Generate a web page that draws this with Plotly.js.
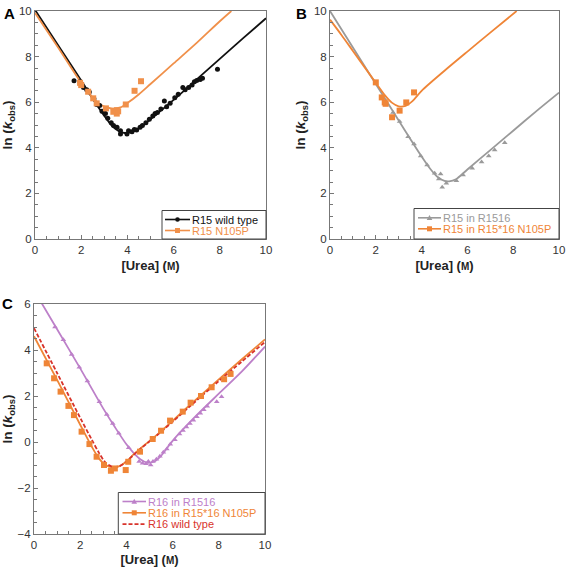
<!DOCTYPE html>
<html>
<head>
<meta charset="utf-8">
<script src="https://cdn.plot.ly/plotly-3.0.1.min.js"></script>
<style>html,body{margin:0;padding:0;background:#fff;}#chart{width:566px;height:567px;}</style>
</head>
<body>
<div id="chart"></div>
<script>
// ---------- Panel A ----------
const ureaA_wt = [1.69,1.95,2.1,2.24,2.35,2.55,2.67,2.8,2.9,3.05,3.15,3.3,3.4,3.55,3.7,3.7,3.98,4.05,4.2,4.3,4.4,4.55,4.65,4.8,4.95,5.1,5.2,5.3,5.45,5.6,5.7,5.85,6.05,6.2,6.4,6.5,6.65,6.8,6.9,7.0,7.15,7.25,7.9];
const lnkA_wt  = [6.94,6.9,6.65,6.55,6.45,6.15,5.9,5.85,5.6,5.5,5.3,5.1,4.98,4.9,4.75,4.6,4.6,4.75,4.7,4.8,4.78,4.9,4.98,5.1,5.25,5.4,5.5,5.55,5.7,6.05,5.8,5.95,6.2,6.35,6.65,6.55,6.65,6.75,6.9,6.95,7.0,7.05,7.45];
const ureaA_np = [1.95,2.0,2.3,2.52,2.67,3.07,3.39,3.54,3.54,3.6,3.93,4.31,4.59];
const lnkA_np  = [6.85,6.75,6.46,6.17,5.95,5.73,5.58,5.5,5.65,5.6,5.9,6.5,6.92];
const fitA_wt_x = [0,1,2,2.5,3,3.3,3.6,3.8,4.0,4.2,4.5,5,6,7,8,9,10];
const fitA_wt_y = [10.05,8.5,6.95,6.15,5.4,5.0,4.75,4.67,4.65,4.7,4.85,5.25,6.1,7.0,7.9,8.8,9.68];
const fitA_np_x = [0,1,2,2.5,2.8,3.1,3.4,3.7,4,4.5,5,6,7,8,8.5];
const fitA_np_y = [9.92,8.4,6.85,6.2,5.92,5.77,5.72,5.77,5.96,6.35,6.8,7.7,8.6,9.55,10.0];

// ---------- Panel B ----------
const ureaB_r1516 = [2.75,3.04,3.41,3.67,3.96,4.24,4.57,4.75,4.83,4.9,5.08,5.52,5.81,6.21,6.62,6.93,7.19,7.63];
const lnkB_r1516  = [5.55,5.15,4.49,4.17,3.64,3.25,2.88,2.63,2.85,2.27,2.45,2.55,2.81,3.1,3.38,3.64,3.9,4.22];
const ureaB_np = [2.0,2.26,2.39,2.43,2.71,3.04,3.33,3.67];
const lnkB_np  = [6.87,6.21,5.99,5.93,5.34,5.63,5.99,6.43];
const fitB_r1516_x = [0,1,2,3,3.5,4,4.4,4.7,5.0,5.2,5.5,6,7,8,9,10];
const fitB_r1516_y = [10.0,8.4,6.8,5.2,4.4,3.62,3.05,2.72,2.55,2.53,2.62,3.05,3.9,4.75,5.6,6.42];
const fitB_np_x = [0,0.5,1,1.5,2,2.4,2.7,3.0,3.3,3.6,4,5,6,7,8.15];
const fitB_np_y = [9.62,8.95,8.25,7.55,6.85,6.3,5.98,5.82,5.84,6.05,6.5,7.38,8.22,9.05,10.0];

// ---------- Panel C ----------
const ureaC_r1516 = [0.91,1.27,1.63,1.96,2.31,2.83,3.15,3.41,3.67,4.1,4.55,4.7,4.85,4.95,5.05,5.15,5.3,5.45,5.6,5.75,5.9,6.1,6.3,6.45,6.6,6.75,6.9,7.05,7.2,7.35,7.5,7.91,8.12];
const lnkC_r1516  = [5.0,4.45,3.8,3.25,2.65,1.75,1.2,0.8,0.38,-0.25,-0.85,-0.92,-0.95,-0.85,-1.0,-0.85,-0.75,-0.62,-0.45,-0.3,-0.1,0.1,0.35,0.5,0.65,0.8,0.95,1.1,1.25,1.4,1.55,1.75,1.97];
const ureaC_np = [0.55,0.87,1.15,1.49,1.73,2.06,2.4,2.71,3.03,3.33,3.5,3.97,4.08,4.59,5.14,5.5,5.89,6.44,6.78,7.23,7.69,8.23,8.51];
const lnkC_np  = [3.42,2.77,2.19,1.57,1.17,0.45,-0.09,-0.64,-1.0,-1.25,-1.15,-1.22,-0.86,-0.42,0.13,0.49,0.93,1.32,1.71,2.0,2.38,2.73,2.96];
const fitC_r1516_x = [0,1,2,3,3.5,4,4.3,4.6,4.9,5.2,5.5,6,7,8,9,10];
const fitC_r1516_y = [6.6,4.9,3.2,1.45,0.65,-0.1,-0.46,-0.75,-0.9,-0.85,-0.6,0.05,1.12,2.1,3.07,4.15];
const fitC_np_x = [0,1,2,2.5,2.8,3.1,3.4,3.7,4.0,4.3,4.7,5.31,6,6.75,8,9,10];
const fitC_np_y = [4.6,2.7,0.75,-0.2,-0.7,-1.0,-1.1,-1.05,-0.85,-0.55,-0.2,0.3,0.92,1.61,2.72,3.6,4.46];
const fitC_wt_x = [0,1,2,2.5,2.8,3.1,3.4,3.7,4.0,4.3,4.7,5.31,6,6.75,8,9,10];
const fitC_wt_y = [4.95,3.0,1.05,0.1,-0.45,-0.9,-1.08,-1.05,-0.85,-0.57,-0.22,0.28,0.88,1.55,2.65,3.5,4.35];

// ---------- tick labels & legend names ----------
const xTicks = [0,2,4,6,8,10];
const yTicksAB = [0,2,4,6,8,10];
const yTicksC = [-4,-2,0,2,4,6];
const namesA = ['R15 wild type', 'R15 N105P'];
const namesB = ['R15 in R1516', 'R15 in R15*16 N105P'];
const namesC = ['R16 in R1516', 'R16 in R15*16 N105P', 'R16 wild type'];

const C_BLACK = '#111111', C_ORANGE_A = '#f0904a', C_ORANGE = '#ef8537',
      C_GRAY = '#9a9a9a', C_PURPLE = '#bd80c9', C_RED = '#d8332b';
const RED_DASH = '4px,2px';

function fit(x, y, color, xa, ya, dash) {
  return {x: x, y: y, xaxis: xa, yaxis: ya, mode: 'lines', showlegend: false,
    line: {color: color, width: 1.8, shape: 'spline', smoothing: 0.8, dash: dash || 'solid'}, hoverinfo: 'skip'};
}
function pts(x, y, color, sym, size, xa, ya) {
  return {x: x, y: y, xaxis: xa, yaxis: ya, mode: 'markers', showlegend: false,
    marker: {color: color, symbol: sym, size: size}, hoverinfo: 'skip'};
}

const traces = [
  fit(fitA_wt_x, fitA_wt_y, C_BLACK, 'x', 'y'),
  fit(fitA_np_x, fitA_np_y, C_ORANGE_A, 'x', 'y'),
  pts(ureaA_wt, lnkA_wt, C_BLACK, 'circle', 5, 'x', 'y'),
  pts(ureaA_np, lnkA_np, C_ORANGE_A, 'square', 6, 'x', 'y'),

  fit(fitB_r1516_x, fitB_r1516_y, C_GRAY, 'x2', 'y2'),
  fit(fitB_np_x, fitB_np_y, C_ORANGE, 'x2', 'y2'),
  pts(ureaB_r1516, lnkB_r1516, C_GRAY, 'triangle-up', 5, 'x2', 'y2'),
  pts(ureaB_np, lnkB_np, C_ORANGE, 'square', 6, 'x2', 'y2'),

  fit(fitC_r1516_x, fitC_r1516_y, C_PURPLE, 'x3', 'y3'),
  fit(fitC_np_x, fitC_np_y, C_ORANGE, 'x3', 'y3'),
  fit(fitC_wt_x, fitC_wt_y, C_RED, 'x3', 'y3', RED_DASH),
  pts(ureaC_r1516, lnkC_r1516, C_PURPLE, 'triangle-up', 5, 'x3', 'y3'),
  pts(ureaC_np, lnkC_np, C_ORANGE, 'square', 6, 'x3', 'y3')
];

const W = 566, H = 567;
const FONT = 'Liberation Sans, Arial, Helvetica, sans-serif';
const px = v => v / W, py = v => 1 - v / H;

const xTitle = {text: '<b>[Urea] (<span style="font-size:10px">M</span>)</b>', font: {size: 13, family: FONT, color: '#222'}, standoff: 6};
const yTitle = {text: '<b>ln (<i>k</i><sub>obs</sub>)</b>', font: {size: 13.5, family: FONT, color: '#222'}, standoff: 5};

function xax(dom, anchor) {
  return {domain: dom, anchor: anchor, range: [0, 10], tickvals: xTicks, ticktext: xTicks.map(String),
    ticks: 'inside', ticklen: 4, tickcolor: '#777', showline: true, linecolor: '#777', linewidth: 1, mirror: true,
    showgrid: false, zeroline: false, tickfont: {size: 11.5, family: FONT, color: '#333'},
    minor: {ticks: 'inside', dtick: 0.5, ticklen: 3, tickcolor: '#777', showgrid: false},
    title: xTitle};
}
function yax(dom, anchor, rng, tv) {
  return {domain: dom, anchor: anchor, range: rng, tickvals: tv, ticktext: tv.map(v => v < 0 ? '\u2212' + Math.abs(v) : String(v)),
    ticks: 'inside', ticklen: 4, tickcolor: '#777', showline: true, linecolor: '#777', linewidth: 1, mirror: true,
    showgrid: false, zeroline: false, tickfont: {size: 11.5, family: FONT, color: '#333'},
    minor: {ticks: 'inside', dtick: 0.5, ticklen: 3, tickcolor: '#777', showgrid: false},
    title: yTitle};
}

// ---------- compact legends (box + sample line + marker + coloured text) ----------
const shapes = [], annotations = [];
const LEG_FONT = 11;
function legendBox(x0, y0, x1, y1) {
  shapes.push({type: 'rect', xref: 'paper', yref: 'paper', x0: px(x0), x1: px(x1), y0: py(y1), y1: py(y0),
    line: {color: '#444', width: 1}, fillcolor: '#fff', layer: 'above'});
}
function legendEntry(lx0, lx1, y, tx, name, color, sym, dash) {
  shapes.push({type: 'line', xref: 'paper', yref: 'paper', x0: px(lx0), x1: px(lx1), y0: py(y), y1: py(y),
    line: {color: color, width: 1.6, dash: dash || 'solid'}, layer: 'above'});
  const cx = (lx0 + lx1) / 2;
  if (sym === 'circle') {
    shapes.push({type: 'circle', xref: 'paper', yref: 'paper', x0: px(cx - 2.3), x1: px(cx + 2.3), y0: py(y + 2.3), y1: py(y - 2.3),
      fillcolor: color, line: {color: color, width: 0}, layer: 'above'});
  } else if (sym === 'square') {
    shapes.push({type: 'rect', xref: 'paper', yref: 'paper', x0: px(cx - 2.5), x1: px(cx + 2.5), y0: py(y + 2.5), y1: py(y - 2.5),
      fillcolor: color, line: {color: color, width: 0}, layer: 'above'});
  } else if (sym === 'triangle') {
    shapes.push({type: 'path', xref: 'paper', yref: 'paper',
      path: 'M' + px(cx - 2.8) + ',' + py(y + 2.2) + ' L' + px(cx + 2.8) + ',' + py(y + 2.2) + ' L' + px(cx) + ',' + py(y - 2.8) + ' Z',
      fillcolor: color, line: {color: color, width: 0}, layer: 'above'});
  }
  annotations.push({text: name, xref: 'paper', yref: 'paper', x: px(tx), y: py(y), xanchor: 'left', yanchor: 'middle',
    showarrow: false, borderpad: 0, font: {size: LEG_FONT, family: FONT, color: color}});
}
legendBox(162, 210.5, 266, 239);
legendEntry(165, 190, 219.5, 190.5, namesA[0], C_BLACK, 'circle');
legendEntry(165, 190, 230.5, 190.5, namesA[1], C_ORANGE_A, 'square');

legendBox(414, 208.5, 559, 239);
legendEntry(418, 441, 217.8, 442, namesB[0], C_GRAY, 'triangle');
legendEntry(418, 441, 228.8, 442, namesB[1], C_ORANGE, 'square');

legendBox(118.3, 492.5, 265, 534);
legendEntry(122.5, 146, 501.5, 147, namesC[0], C_PURPLE, 'triangle');
legendEntry(122.5, 146, 512.8, 147, namesC[1], C_ORANGE, 'square');
legendEntry(122.5, 146, 524.1, 147, namesC[2], C_RED, null, RED_DASH);

annotations.push(
  {text: '<b>A</b>', x: px(2), y: py(3), xref: 'paper', yref: 'paper', xanchor: 'left', yanchor: 'top', showarrow: false, font: {size: 15, family: FONT, color: '#000'}},
  {text: '<b>B</b>', x: px(294), y: py(3), xref: 'paper', yref: 'paper', xanchor: 'left', yanchor: 'top', showarrow: false, font: {size: 15, family: FONT, color: '#000'}},
  {text: '<b>C</b>', x: px(0), y: py(293), xref: 'paper', yref: 'paper', xanchor: 'left', yanchor: 'top', showarrow: false, font: {size: 15, family: FONT, color: '#000'}}
);

const layout = {
  width: W, height: H, margin: {l: 0, r: 0, t: 0, b: 0},
  paper_bgcolor: '#fff', plot_bgcolor: '#fff', showlegend: false,
  xaxis: xax([px(35), px(266)], 'y'),
  yaxis: yax([py(239), py(11)], 'x', [0, 10], yTicksAB),
  xaxis2: xax([px(330), px(559)], 'y2'),
  yaxis2: yax([py(239), py(11)], 'x2', [0, 10], yTicksAB),
  xaxis3: xax([px(34), px(265)], 'y3'),
  yaxis3: yax([py(534), py(304)], 'x3', [-4, 6], yTicksC),
  shapes: shapes,
  annotations: annotations
};

Plotly.newPlot('chart', traces, layout, {staticPlot: true, displayModeBar: false});
</script>
</body>
</html>
